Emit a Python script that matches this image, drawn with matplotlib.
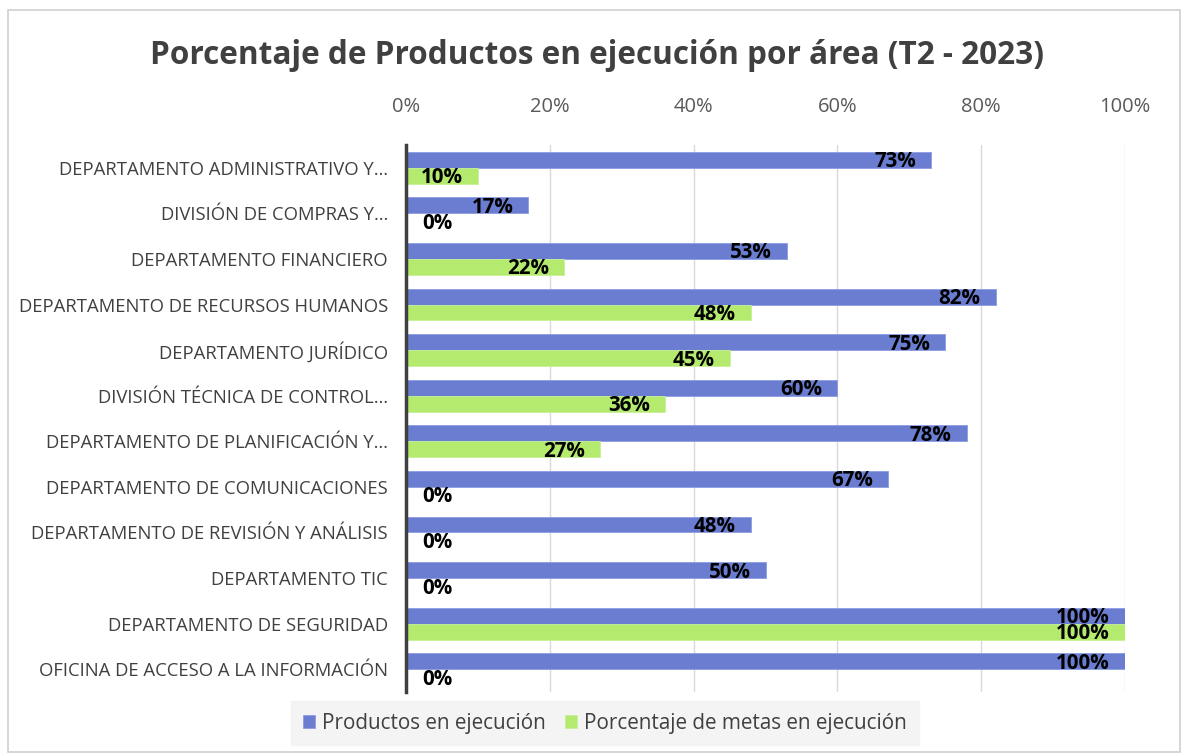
import matplotlib
matplotlib.use("Agg")
import matplotlib.pyplot as plt
import numpy as np
from matplotlib.transforms import offset_copy

categories = [
    "DEPARTAMENTO ADMINISTRATIVO Y…",
    "DIVISIÓN DE COMPRAS Y…",
    "DEPARTAMENTO FINANCIERO",
    "DEPARTAMENTO DE RECURSOS HUMANOS",
    "DEPARTAMENTO JURÍDICO",
    "DIVISIÓN TÉCNICA DE CONTROL…",
    "DEPARTAMENTO DE PLANIFICACIÓN Y…",
    "DEPARTAMENTO DE COMUNICACIONES",
    "DEPARTAMENTO DE REVISIÓN Y ANÁLISIS",
    "DEPARTAMENTO TIC",
    "DEPARTAMENTO DE SEGURIDAD",
    "OFICINA DE ACCESO A LA INFORMACIÓN",
]
productos = [73, 17, 53, 82, 75, 60, 78, 67, 48, 50, 100, 100]
metas = [10, 0, 22, 48, 45, 36, 27, 0, 0, 0, 100, 0]
series_names = ["Productos en ejecución", "Porcentaje de metas en ejecución"]
xticks = [0, 20, 40, 60, 80, 100]
title = "Porcentaje de Productos en ejecución por área (T2 - 2023)"

blue = "#6A7DD0"
green = "#B4EB6E"
txt = "#404040"

plt.rcParams['font.family'] = ['Open Sans', 'DejaVu Sans']

fig = plt.figure(figsize=(11.84, 7.55), dpi=100)
ax = fig.add_axes([406/1184, 1-692/755, (1125-406)/1184, (692-145)/755])

y = np.arange(len(categories))
h = 0.35
ax.barh(y - h/2, productos, height=h, color=blue, edgecolor="#8C9CE0", linewidth=0.6, label=series_names[0], zorder=3)
ax.barh(y + h/2, metas, height=h, color=green, edgecolor="#C8F09A", linewidth=0.6, label=series_names[1], zorder=3)

ax.set_xlim(0, 100)
ax.set_ylim(len(categories) - 0.5, -0.5)
ax.set_xticks(xticks)
ax.set_xticklabels([f"{v}%" for v in xticks], fontsize=14.5, color="#595959")
ax.xaxis.tick_top()
ax.tick_params(axis='x', length=0, pad=20)
ax.set_yticks(y)
ax.set_yticklabels(categories, fontsize=13.3, color=txt)
ax.tick_params(axis='y', length=0, pad=13)
ax.grid(axis='x', color="#D9D9D9", linewidth=1, zorder=0)
for s in ["top", "right", "bottom"]:
    ax.spines[s].set_visible(False)
ax.spines["left"].set_color("#404040")
ax.spines["left"].set_linewidth(2.5)
ax.spines["left"].set_zorder(5)

for vals, off in [(productos, -h/2), (metas, h/2)]:
    for i, v in enumerate(vals):
        if v > 0:
            tr = offset_copy(ax.transData, fig=fig, x=-15, y=-2, units='dots')
            ax.text(v, i + off, f"{v}%", transform=tr, ha='right', va='center',
                    fontsize=14.8, fontweight='bold', color='black', zorder=6)
        else:
            tr = offset_copy(ax.transData, fig=fig, x=16, y=-2, units='dots')
            ax.text(0, i + off, f"{v}%", transform=tr, ha='left', va='center',
                    fontsize=14.8, fontweight='bold', color='black', zorder=6)

fig.text(597/1184, 1-55/755, title, ha='center', va='center', fontsize=22.7,
         fontweight='bold', color=txt)

leg = fig.legend(loc='center', bbox_to_anchor=(605/1184, 1-723/755), ncol=2,
                 frameon=True, fontsize=14.9, handlelength=0.6, handleheight=0.6,
                 handletextpad=0.35, columnspacing=0.9, borderpad=0.55)
leg.get_frame().set_facecolor("#F2F2F2")
leg.get_frame().set_edgecolor("#F2F2F2")
leg.get_frame().set_boxstyle("square", pad=0)
for t in leg.get_texts():
    t.set_color(txt)

border = plt.Rectangle((8/1184, 1-752/755), (1180-8)/1184, (752-10)/755, transform=fig.transFigure,
                       fill=False, edgecolor="#D0D0D0", linewidth=1.2)
fig.add_artist(border)

fig.savefig("out.png", dpi=100)
